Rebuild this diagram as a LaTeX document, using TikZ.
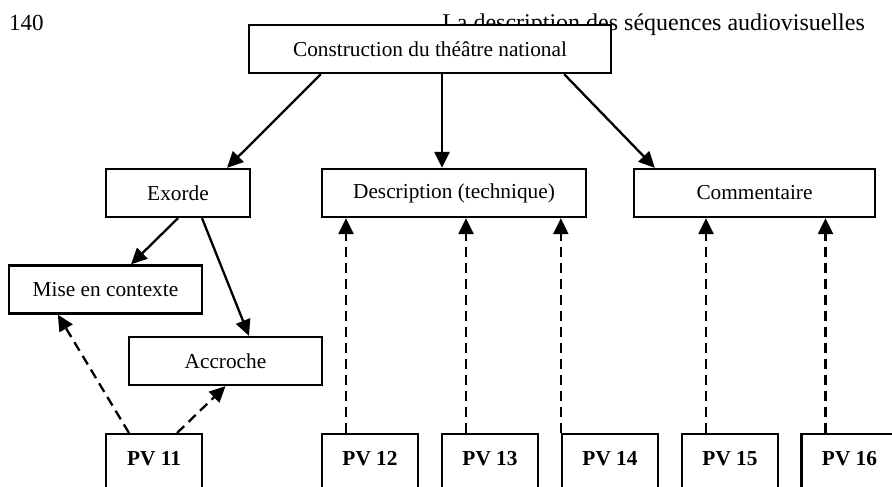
\documentclass[tikz,border=0pt]{standalone}
\usepackage{fontspec}
\setmainfont{Liberation Serif}
\usetikzlibrary{arrows.meta}
\begin{document}
\begin{tikzpicture}[x=1pt,y=-1pt,
    box/.style={draw,fill=white,line width=2.3pt,inner sep=0pt,minimum height=48pt,font=\fontsize{21.3}{25}\selectfont},
    pv/.style={draw,line width=2.3pt,inner xsep=0pt,inner ysep=0pt,minimum width=96pt,text height=31pt,text depth=60pt,anchor=north,font=\fontsize{21.3}{25}\selectfont\bfseries},
    arr/.style={line width=2.3pt,-{Triangle[length=16pt,width=15pt]}},
    dep/.style={arr,dash pattern=on 10pt off 6pt}]
      \useasboundingbox (0,0) rectangle (892,487);
      \draw
        (9,31) node[anchor=base west,inner sep=0pt,font=\fontsize{23}{27}\selectfont] (page){140}
        (865,31) node[anchor=base east,inner sep=0pt,font=\fontsize{24}{28}\selectfont] (head){La description des séquences audiovisuelles};
      \draw
        (430,49) node[box,minimum width=362pt] (constr){Construction du théâtre national}
        (178,193) node[box,minimum width=144pt] (exorde){Exorde}
        (454,193) node[box,minimum width=264pt] (descr){Description (technique)}
        (754.5,193) node[box,minimum width=241pt] (comment){Commentaire}
        (105.5,289.5) node[box,minimum width=193pt] (mise){Mise en contexte}
        (225.5,361) node[box,minimum width=193pt] (accroche){Accroche};
      \draw
        (154,433) node[pv] (pv11){PV 11}
        (370,433) node[pv] (pv12){PV 12}
        (490,433) node[pv] (pv13){PV 13}
        (610,433) node[pv] (pv14){PV 14}
        (730,433) node[pv] (pv15){PV 15}
        (849.5,433) node[pv] (pv16){PV 16};
      \begin{scope}[arr]
        \draw ([xshift=73pt]constr.south west) to ([xshift=49pt]exorde.north);
        \draw ([xshift=12pt]constr.south) to ([xshift=-12pt]descr.north);
        \draw ([xshift=-48pt]constr.south east) to ([xshift=22pt]comment.north west);
        \draw (exorde.south) to ([xshift=25.5pt]mise.north);
        \draw ([xshift=24pt]exorde.south) to ([xshift=23.5pt]accroche.north);
      \end{scope}
      \begin{scope}[dep]
        \draw ([xshift=-25pt]pv11.north) to ([xshift=50pt]mise.south west);
        \draw ([xshift=23pt]pv11.north) to (accroche.south);
        \draw ([xshift=-24pt]pv12.north) to ([xshift=-24pt]pv12.north |- descr.south);
        \draw ([xshift=-24pt]pv13.north) to ([xshift=-24pt]pv13.north |- descr.south);
        \draw (pv14.north west) to (pv14.north west |- descr.south);
        \draw ([xshift=-24pt]pv15.north) to ([xshift=-24pt]pv15.north |- comment.south);
        \draw ([xshift=-24pt]pv16.north) to ([xshift=-24pt]pv16.north |- comment.south);
      \end{scope}
    \end{tikzpicture}
\end{document}
